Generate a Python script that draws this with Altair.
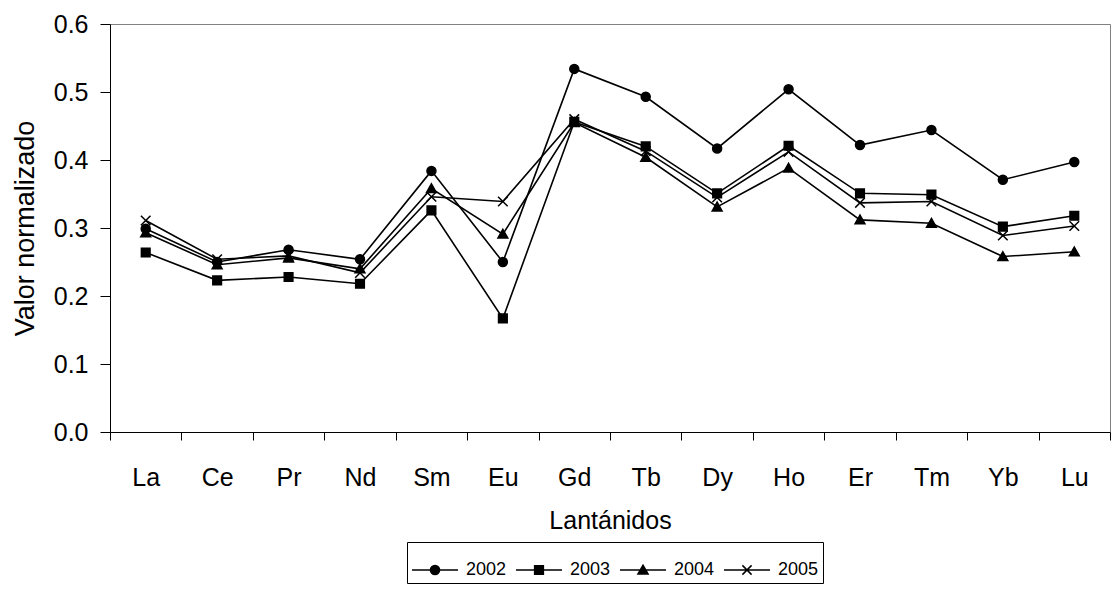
import altair as alt
import pandas as pd

# Lanthanides on the x axis
elementos = ["La", "Ce", "Pr", "Nd", "Sm", "Eu", "Gd", "Tb", "Dy", "Ho", "Er", "Tm", "Yb", "Lu"]
anios = ["2002", "2003", "2004", "2005"]

# Normalised values per year
v2002 = [0.299, 0.250, 0.268, 0.254, 0.384, 0.250, 0.534, 0.493, 0.417, 0.504, 0.422, 0.444, 0.371, 0.397]
v2003 = [0.264, 0.223, 0.228, 0.218, 0.326, 0.167, 0.456, 0.420, 0.351, 0.421, 0.351, 0.349, 0.302, 0.318]
v2004 = [0.293, 0.246, 0.256, 0.240, 0.358, 0.291, 0.455, 0.404, 0.331, 0.388, 0.312, 0.307, 0.258, 0.265]
v2005 = [0.311, 0.254, 0.259, 0.234, 0.346, 0.339, 0.460, 0.413, 0.345, 0.412, 0.337, 0.339, 0.289, 0.303]

y_ticks = [0.0, 0.1, 0.2, 0.3, 0.4, 0.5, 0.6]

series = {"2002": v2002, "2003": v2003, "2004": v2004, "2005": v2005}
df = pd.DataFrame(
    [{"elemento": e, "anio": a, "valor": v} for a, vals in series.items() for e, v in zip(elementos, vals)]
)

FONT = "Liberation Sans"

# marker shapes drawn on the lines (unit box -1..1)
marcadores = [
    "M0.75,0A0.75,0.75 0 1,1 -0.75,0A0.75,0.75 0 1,1 0.75,0Z",
    "M-0.72,-0.72H0.72V0.72H-0.72Z",
    "M0,-0.8L0.82,0.66L-0.82,0.66Z",
    "M-0.8,-0.8L0.8,0.8M-0.8,0.8L0.8,-0.8",
]
# legend symbols: a short line segment with the marker in its middle
simbolos = [
    "M-1,0H1M0.2,0A0.2,0.2 0 1,1 -0.2,0A0.2,0.2 0 1,1 0.2,0Z",
    "M-1,0H1M-0.19,-0.19H0.19V0.19H-0.19Z",
    "M-1,0H1M0,-0.21L0.22,0.17L-0.22,0.17Z",
    "M-1,0H1M-0.2,-0.2L0.2,0.2M-0.2,0.2L0.2,-0.2",
]

x_enc = alt.X(
    "elemento:N",
    sort=elementos,
    bandPosition=0.5,
    scale=alt.Scale(type="band", paddingInner=0, paddingOuter=0),
    axis=alt.Axis(
        title="Lantánidos",
        labelAngle=0,
        tickBand="extent",
        tickSize=8,
        labelFontSize=25,
        labelBaseline="alphabetic",
        labelPadding=45,
        titleFontSize=25,
        titleFontWeight="normal",
        titleBaseline="alphabetic",
        titleY=96,
    ),
)
y_enc = alt.Y(
    "valor:Q",
    scale=alt.Scale(domain=[0, 0.6], nice=False, zero=True),
    axis=alt.Axis(
        title="Valor normalizado",
        values=y_ticks,
        format=".1f",
        tickSize=10,
        labelFontSize=25,
        labelPadding=12,
        titleFontSize=27,
        titleFontWeight="normal",
        titleBaseline="alphabetic",
        titleX=-77,
    ),
)

base = alt.Chart(df).encode(x=x_enc, y=y_enc)

lineas = base.mark_line(color="black", strokeWidth=1.6).encode(detail="anio:N")

puntos = base.mark_point(
    filled=True, color="black", fill="black", stroke="black", strokeWidth=1.5, opacity=1, size=144
).encode(
    shape=alt.Shape("anio:N", scale=alt.Scale(domain=anios, range=marcadores), legend=None)
)

# layer that only feeds the legend (line + marker symbols); its own marks sit above the canvas
leyenda = alt.Chart(df).mark_point(
    filled=False, fill="black", stroke="black", strokeWidth=1.5, opacity=1, size=144
).encode(
    x=x_enc,
    y=alt.value(-400),
    shape=alt.Shape(
        "anio:N",
        scale=alt.Scale(domain=anios, range=simbolos),
        legend=alt.Legend(
            title=None,
            orient="none",
            legendX=297,
            legendY=518,
            direction="horizontal",
            columns=4,
            padding=4,
            strokeColor="black",
            fillColor="white",
            symbolSize=2116,
            symbolStrokeWidth=1.5,
            symbolOpacity=1,
            labelOffset=7,
            columnPadding=6,
            labelFontSize=18,
            labelFont=FONT,
            labelColor="black",
        ),
    ),
)

chart = (
    alt.layer(lineas, puntos, leyenda)
    .resolve_scale(shape="independent")
    .properties(
        width=1000,
        height=408,
        padding={"left": 110, "top": 24, "right": 5, "bottom": 160},
        autosize=alt.AutoSizeParams(type="none"),
        background="white",
    )
    .configure_view(stroke="#808080", strokeWidth=1)
    .configure_axis(
        grid=False,
        domainColor="black",
        domainWidth=1,
        tickColor="black",
        tickWidth=1,
        labelColor="black",
        titleColor="black",
        labelFont=FONT,
        titleFont=FONT,
    )
    .configure_text(font=FONT)
)

chart.save("out.html", embed_options={"renderer": "svg", "actions": False})
